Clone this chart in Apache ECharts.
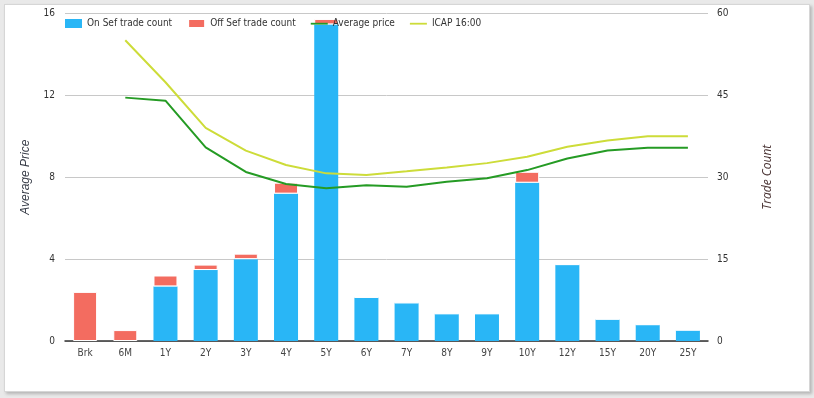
<!DOCTYPE html>
<html>
<head>
<meta charset="utf-8">
<script src="https://cdn.jsdelivr.net/npm/echarts@6/dist/echarts.min.js"></script>
<style>
    html, body { margin: 0; padding: 0; background: #e9e9e9; }
    .card {
        position: absolute; left: 4px; top: 4px; width: 804px; height: 386px;
        background: #fff; border: 1px solid #d6d6d6;
        box-shadow: 2px 2px 3px #b5b5b5;
    }
    #chart { position: absolute; left: 0; top: 0; width: 814px; height: 398px; }
</style>
</head>
<body>
<div class="card"></div>
<div id="chart"></div>
<script>
(function() {
    // 数据
    var tenors = ['Brk', '6M', '1Y', '2Y', '3Y', '4Y', '5Y', '6Y', '7Y', '8Y', '9Y', '10Y', '12Y', '15Y', '20Y', '25Y'];
    var onSef = [0, 0, 10, 13, 15, 27, 58, 8, 7, 5, 5, 29, 14, 4, 3, 2];
    var offSef = [9, 2, 2, 1, 1, 2, 1, 0, 0, 0, 0, 2, 0, 0, 0, 0];
    var avgPrice = ['-', 11.89, 11.74, 9.46, 8.26, 7.67, 7.46, 7.61, 7.54, 7.78, 7.95, 8.35, 8.92, 9.31, 9.44, 9.44];
    var icap = ['-', 14.69, 12.64, 10.41, 9.30, 8.60, 8.19, 8.11, 8.29, 8.48, 8.69, 9.0, 9.49, 9.80, 10.0, 10.0];

    var font = '"DejaVu Sans Condensed", "DejaVu Sans", sans-serif';
    // 图例里的线条图标（细横线）
    var lineIcon = 'path://M0,0 L0,0 M0,3.8 L17,3.8 L17,5.6 L0,5.6 Z M17,9 L17,9';

    var myChart = echarts.init(document.getElementById('chart'));

    var option = {
        animation: false,
        legend: {
            left: 60,
            top: 13,
            itemWidth: 17,
            itemHeight: 9,
            itemGap: 15,
            textStyle: { fontFamily: font, fontSize: 10, color: '#333' },
            data: [
                { name: 'On Sef trade count', icon: 'rect' },
                { name: 'Off Sef trade count', icon: 'rect' },
                { name: 'Average price', icon: lineIcon },
                { name: 'ICAP 16:00', icon: lineIcon }
            ]
        },
        grid: { left: 65, right: 106, top: 13.5, bottom: 57 },
        xAxis: {
            type: 'category',
            data: tenors,
            axisLine: { lineStyle: { color: '#333', width: 1.5 } },
            axisTick: { show: false },
            axisLabel: { fontFamily: font, fontSize: 10, color: '#444', margin: 7 }
        },
        yAxis: [
            {
                type: 'value',
                min: 0, max: 16, interval: 4,
                name: 'Average Price',
                nameLocation: 'middle',
                nameGap: 33,
                nameTextStyle: { fontFamily: 'Liberation Sans', fontStyle: 'italic', fontSize: 12, color: '#3a3f4a' },
                axisLine: { show: false },
                axisTick: { show: false },
                axisLabel: { fontFamily: font, fontSize: 10, color: '#333', margin: 10 },
                splitLine: { lineStyle: { color: '#c8c8c8' } }
            },
            {
                type: 'value',
                min: 0, max: 60, interval: 15,
                name: 'Trade Count',
                nameLocation: 'middle',
                nameGap: 54,
                nameTextStyle: { fontFamily: 'Open Sans', fontStyle: 'italic', fontSize: 12, color: '#4a3434' },
                axisLine: { show: false },
                axisTick: { show: false },
                axisLabel: { fontFamily: font, fontSize: 10, color: '#333', margin: 9 },
                splitLine: { show: false }
            }
        ],
        series: [
            {
                name: 'On Sef trade count',
                type: 'bar',
                yAxisIndex: 1,
                stack: 'count',
                barWidth: 24,
                itemStyle: { color: '#29b6f6' },
                data: onSef
            },
            {
                name: 'Off Sef trade count',
                type: 'bar',
                yAxisIndex: 1,
                stack: 'count',
                barWidth: 24,
                itemStyle: { color: '#f36c60', borderColor: '#fff', borderWidth: 1 },
                data: offSef
            },
            {
                name: 'Average price',
                type: 'line',
                yAxisIndex: 0,
                symbol: 'none',
                lineStyle: { color: '#259b24', width: 2 },
                itemStyle: { color: '#259b24' },
                data: avgPrice
            },
            {
                name: 'ICAP 16:00',
                type: 'line',
                yAxisIndex: 0,
                symbol: 'none',
                lineStyle: { color: '#cddc39', width: 2 },
                itemStyle: { color: '#cddc39' },
                data: icap
            }
        ]
    };

    myChart.setOption(option);
    window.addEventListener("resize", function() {
        myChart.resize();
    });
})();
</script>
</body>
</html>
